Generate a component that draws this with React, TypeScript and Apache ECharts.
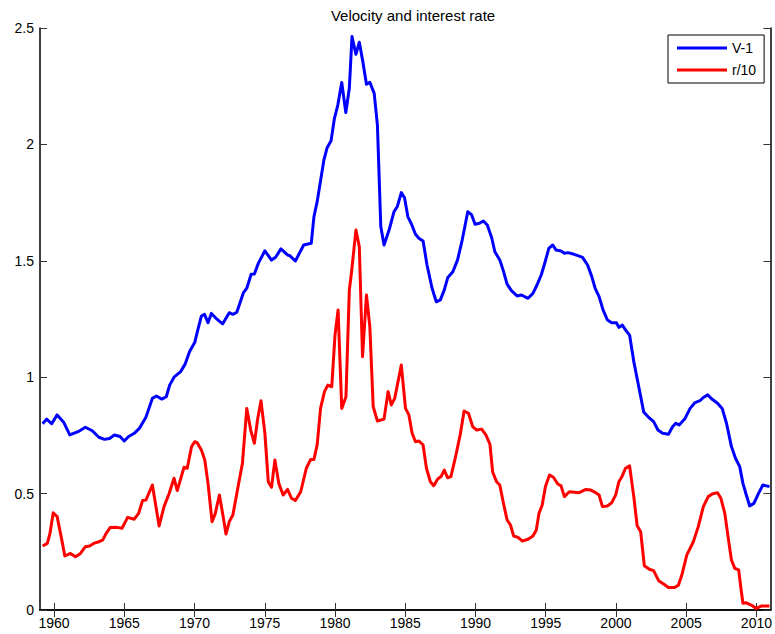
import React, { useEffect, useRef } from "react";
import * as echarts from "echarts";

const FONT = "Liberation Sans, Arial, Helvetica, sans-serif";

const titleText = "Velocity and interest rate";
const seriesNames = ["V-1", "r/10"];
const xTicks = [1960, 1965, 1970, 1975, 1980, 1985, 1990, 1995, 2000, 2005, 2010];
const yTicks = [0, 0.5, 1, 1.5, 2, 2.5];

const vYears = [
  1959.19, 1959.47, 1959.83, 1960.22, 1960.7, 1961.12, 1961.71, 1962.23, 1962.72, 1963.19,
  1963.59, 1963.95, 1964.3, 1964.7, 1965.0, 1965.31, 1965.71, 1966.07, 1966.54, 1967.0,
  1967.29, 1967.67, 1967.99, 1968.23, 1968.54, 1969.01, 1969.32, 1969.65, 1970.02, 1970.18,
  1970.49, 1970.71, 1970.96, 1971.2, 1971.53, 1972.0, 1972.47, 1972.73, 1973.01, 1973.48,
  1973.72, 1974.03, 1974.26, 1974.54, 1975.01, 1975.48, 1975.77, 1976.15, 1976.62, 1976.78,
  1977.18, 1977.77, 1978.31, 1978.5, 1978.73, 1979.21, 1979.44, 1979.72, 1979.96, 1980.2,
  1980.48, 1980.77, 1981.02, 1981.21, 1981.49, 1981.73, 1981.96, 1982.24, 1982.48, 1982.79,
  1983.02, 1983.26, 1983.49, 1983.85, 1984.2, 1984.43, 1984.72, 1984.95, 1985.19, 1985.42,
  1985.73, 1985.97, 1986.27, 1986.55, 1986.91, 1987.21, 1987.5, 1987.78, 1988.02, 1988.39,
  1988.72, 1989.03, 1989.45, 1989.73, 1989.97, 1990.28, 1990.56, 1990.84, 1991.15, 1991.38,
  1991.73, 1991.97, 1992.25, 1992.56, 1992.96, 1993.27, 1993.74, 1994.09, 1994.38, 1994.68,
  1994.96, 1995.22, 1995.5, 1995.74, 1996.09, 1996.33, 1996.56, 1996.96, 1997.34, 1997.62,
  1997.98, 1998.28, 1998.52, 1998.8, 1999.08, 1999.39, 1999.7, 2000.03, 2000.21, 2000.45,
  2000.68, 2000.97, 2001.27, 2001.62, 2001.98, 2002.29, 2002.68, 2002.99, 2003.32, 2003.74,
  2004.03, 2004.26, 2004.5, 2004.92, 2005.28, 2005.63, 2005.98, 2006.22, 2006.53, 2006.85,
  2007.23, 2007.56, 2007.87, 2008.22, 2008.51, 2008.81, 2009.04, 2009.28, 2009.52, 2009.82,
  2010.15, 2010.46, 2010.93,
];
const vValues = [
  0.8, 0.82, 0.8, 0.838, 0.805, 0.752, 0.766, 0.785, 0.77, 0.742,
  0.733, 0.737, 0.752, 0.745, 0.726, 0.745, 0.759, 0.78, 0.828, 0.909,
  0.919, 0.906, 0.916, 0.966, 1.0, 1.024, 1.055, 1.11, 1.15, 1.19,
  1.263, 1.27, 1.234, 1.274, 1.253, 1.229, 1.277, 1.27, 1.279, 1.363,
  1.382, 1.442, 1.443, 1.489, 1.543, 1.503, 1.515, 1.551, 1.525, 1.522,
  1.499, 1.568, 1.575, 1.689, 1.754, 1.933, 1.986, 2.016, 2.112, 2.169,
  2.266, 2.137, 2.241, 2.463, 2.387, 2.439, 2.363, 2.258, 2.267, 2.219,
  2.083, 1.647, 1.568, 1.632, 1.711, 1.732, 1.793, 1.771, 1.689, 1.661,
  1.614, 1.597, 1.585, 1.482, 1.382, 1.324, 1.332, 1.375, 1.427, 1.453,
  1.503, 1.582, 1.711, 1.697, 1.657, 1.661, 1.671, 1.654, 1.6, 1.539,
  1.503, 1.46, 1.4, 1.372, 1.349, 1.353, 1.339, 1.36, 1.396, 1.439,
  1.496, 1.553, 1.568, 1.546, 1.542, 1.532, 1.535, 1.529, 1.521, 1.515,
  1.482, 1.432, 1.382, 1.346, 1.289, 1.246, 1.234, 1.234, 1.214, 1.224,
  1.203, 1.181, 1.067, 0.96, 0.85, 0.83, 0.809, 0.773, 0.759, 0.755,
  0.787, 0.802, 0.795, 0.823, 0.866, 0.891, 0.899, 0.913, 0.924, 0.905,
  0.888, 0.866, 0.802, 0.702, 0.652, 0.616, 0.544, 0.494, 0.447, 0.458,
  0.501, 0.537, 0.53,
];

const rYears = [
  1959.19, 1959.52, 1959.71, 1959.94, 1960.22, 1960.46, 1960.77, 1961.17, 1961.52, 1961.88,
  1962.23, 1962.53, 1962.82, 1963.19, 1963.47, 1963.71, 1963.99, 1964.46, 1964.84, 1965.24,
  1965.71, 1966.02, 1966.3, 1966.54, 1967.0, 1967.48, 1967.83, 1968.18, 1968.54, 1968.77,
  1969.25, 1969.48, 1969.79, 1970.02, 1970.18, 1970.49, 1970.73, 1970.96, 1971.25, 1971.48,
  1971.77, 1972.0, 1972.24, 1972.47, 1972.73, 1973.08, 1973.41, 1973.72, 1974.0, 1974.26,
  1974.5, 1974.73, 1975.01, 1975.25, 1975.48, 1975.72, 1976.0, 1976.31, 1976.62, 1976.9,
  1977.18, 1977.56, 1977.96, 1978.27, 1978.5, 1978.73, 1978.97, 1979.25, 1979.49, 1979.77,
  1980.0, 1980.22, 1980.48, 1980.78, 1981.02, 1981.18, 1981.49, 1981.73, 1981.96, 1982.24,
  1982.48, 1982.72, 1983.02, 1983.49, 1983.78, 1984.01, 1984.25, 1984.72, 1985.02, 1985.26,
  1985.49, 1985.73, 1985.97, 1986.27, 1986.51, 1986.79, 1987.03, 1987.31, 1987.55, 1987.78,
  1988.02, 1988.25, 1988.56, 1988.91, 1989.19, 1989.5, 1989.8, 1990.09, 1990.44, 1990.74,
  1991.03, 1991.22, 1991.5, 1991.73, 1991.97, 1992.25, 1992.49, 1992.72, 1993.03, 1993.34,
  1993.74, 1994.09, 1994.33, 1994.52, 1994.75, 1994.98, 1995.27, 1995.55, 1995.86, 1996.09,
  1996.33, 1996.68, 1997.03, 1997.38, 1997.86, 1998.21, 1998.56, 1998.8, 1999.04, 1999.39,
  1999.7, 1999.98, 2000.21, 2000.45, 2000.68, 2000.97, 2001.27, 2001.51, 2001.76, 2002.02,
  2002.38, 2002.68, 2003.04, 2003.39, 2003.74, 2004.17, 2004.45, 2004.69, 2005.04, 2005.51,
  2005.86, 2006.22, 2006.57, 2006.85, 2007.23, 2007.47, 2007.75, 2007.98, 2008.22, 2008.46,
  2008.74, 2008.88, 2009.04, 2009.28, 2009.63, 2009.99, 2010.34, 2010.93,
];
const rValues = [
  0.275, 0.286, 0.329, 0.418, 0.401, 0.329, 0.232, 0.243, 0.229, 0.243,
  0.272, 0.275, 0.286, 0.293, 0.301, 0.329, 0.354, 0.355, 0.351, 0.398,
  0.39, 0.415, 0.47, 0.472, 0.537, 0.361, 0.444, 0.498, 0.566, 0.513,
  0.613, 0.609, 0.702, 0.723, 0.719, 0.687, 0.644, 0.544, 0.379, 0.415,
  0.494, 0.415, 0.326, 0.379, 0.408, 0.523, 0.63, 0.866, 0.773, 0.716,
  0.823, 0.899, 0.759, 0.551, 0.527, 0.644, 0.544, 0.494, 0.518, 0.48,
  0.47, 0.508, 0.609, 0.647, 0.647, 0.709, 0.866, 0.938, 0.966, 0.959,
  1.181, 1.289, 0.866, 0.916, 1.375, 1.453, 1.632, 1.561, 1.088, 1.353,
  1.217, 0.873, 0.812, 0.82, 0.938, 0.881, 0.909, 1.052, 0.866, 0.838,
  0.759, 0.723, 0.726, 0.709, 0.609, 0.551, 0.534, 0.563, 0.573, 0.601,
  0.568, 0.573, 0.652, 0.752, 0.855, 0.845, 0.788, 0.773, 0.777, 0.752,
  0.712, 0.594, 0.551, 0.537, 0.465, 0.387, 0.365, 0.318, 0.312, 0.296,
  0.304, 0.318, 0.344, 0.415, 0.451, 0.53, 0.58, 0.57, 0.541, 0.533,
  0.487, 0.508, 0.506, 0.504, 0.518, 0.515, 0.504, 0.494, 0.444, 0.447,
  0.461, 0.494, 0.551, 0.576, 0.609, 0.619, 0.487, 0.362, 0.336, 0.19,
  0.175, 0.169, 0.126, 0.112, 0.097, 0.097, 0.107, 0.15, 0.236, 0.293,
  0.358, 0.444, 0.487, 0.498, 0.504, 0.48, 0.415, 0.315, 0.215, 0.179,
  0.172, 0.1, 0.029, 0.031, 0.021, 0.007, 0.017, 0.017,
];

const zip = (xs: number[], ys: number[]) => xs.map((x, i) => [x, ys[i]]);

export default function App() {
  const ref = useRef<HTMLDivElement>(null);
  useEffect(() => {
    if (!ref.current) return;
    const chart = echarts.init(ref.current, null, { renderer: "svg" });
    const axisLine = { show: true, lineStyle: { color: "#000", width: 1.5 } };
    const tick = { show: true, inside: true, length: 7, lineStyle: { color: "#333", width: 1 } };
    chart.setOption({
      animation: false,
      backgroundColor: "#fff",
      textStyle: { fontFamily: FONT },
      title: {
        text: titleText,
        left: 408,
        textAlign: "center",
        top: 3,
        textStyle: { fontFamily: FONT, fontSize: 15, fontWeight: "normal", color: "#000" },
      },
      legend: {
        orient: "vertical",
        left: 668,
        top: 35,
        padding: [6, 8, 6, 9],
        itemWidth: 50,
        itemHeight: 3,
        itemGap: 8,
        itemTextGap: 6,
        icon: "rect",
        borderColor: "#000",
        borderWidth: 1,
        backgroundColor: "#fff",
        borderRadius: 0,
        textStyle: { fontFamily: FONT, fontSize: 14, color: "#000", lineHeight: 13 },
        data: seriesNames,
      },
      grid: { left: 40, top: 28, width: 736, height: 582, containLabel: false },
      xAxis: [
        {
          type: "value",
          min: 1959,
          max: 2011,
          position: "bottom",
          axisLine,
          axisTick: { ...tick, customValues: xTicks },
          axisLabel: {
            customValues: xTicks,
            formatter: (v: number) => String(v),
            margin: 6,
            fontFamily: FONT,
            fontSize: 14,
            color: "#000",
          },
          splitLine: { show: false },
        },
        {
          type: "value",
          min: 1959,
          max: 2011,
          position: "top",
          axisLine,
          axisTick: { ...tick, customValues: xTicks },
          axisLabel: { show: false },
          splitLine: { show: false },
        },
      ],
      yAxis: [
        {
          type: "value",
          min: 0,
          max: 2.5,
          interval: 0.5,
          position: "left",
          axisLine,
          axisTick: { ...tick, customValues: yTicks },
          axisLabel: {
            customValues: yTicks,
            formatter: (v: number) => String(v),
            margin: 6,
            fontFamily: FONT,
            fontSize: 14,
            color: "#000",
          },
          splitLine: { show: false },
        },
        {
          type: "value",
          min: 0,
          max: 2.5,
          interval: 0.5,
          position: "right",
          axisLine,
          axisTick: { ...tick, customValues: yTicks },
          axisLabel: { show: false },
          splitLine: { show: false },
        },
      ],
      series: [
        {
          name: seriesNames[0],
          type: "line",
          data: zip(vYears, vValues),
          showSymbol: false,
          symbol: "none",
          color: "#0000ff",
          lineStyle: { color: "#0000ff", width: 3, join: "round" },
        },
        {
          name: seriesNames[1],
          type: "line",
          data: zip(rYears, rValues),
          showSymbol: false,
          symbol: "none",
          color: "#ff0000",
          lineStyle: { color: "#ff0000", width: 3, join: "round" },
        },
      ],
    });
    return () => chart.dispose();
  }, []);
  return (
    <div
      ref={ref}
      style={{ position: "fixed", left: 0, top: 0, width: 775, height: 634, background: "#fff" }}
    />
  );
}
